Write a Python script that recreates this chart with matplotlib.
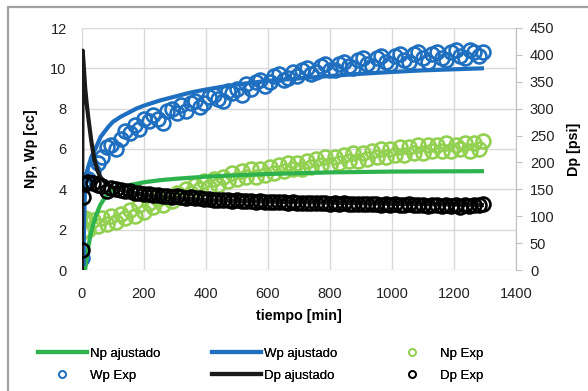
import matplotlib.pyplot as plt
from matplotlib.lines import Line2D
from matplotlib.patches import Rectangle

plt.rcParams['font.family'] = ['Liberation Sans', 'DejaVu Sans']

# tiempos de medicion [min]
t_exp = [0, 3, 10] + list(range(20, 1300, 15))

wp_exp = [0.6, 4.2, 4.4,
          4.5, 4.9, 5.3, 5.6, 6.1, 6.2, 6.0, 6.5, 6.9, 6.8,
          7.2, 7.0, 7.5, 7.4, 7.7, 7.5, 7.3, 7.9, 8.0, 7.8,
          8.2, 7.9, 8.3, 8.4, 8.1, 8.3, 8.6, 8.7, 8.5, 8.4,
          8.9, 8.8, 9.0, 8.7, 9.2, 9.0, 9.3, 9.4, 9.1, 9.3,
          9.6, 9.7, 9.4, 9.5, 9.8, 9.6, 9.9, 10.0, 9.7, 9.8,
          10.1, 10.2, 9.9, 9.9, 10.2, 10.3, 10.1, 10.0, 10.4, 10.5,
          10.2, 10.1, 10.5, 10.6, 10.3, 10.2, 10.6, 10.7, 10.4, 10.3,
          10.7, 10.8, 10.5, 10.3, 10.7, 10.8, 10.5, 10.4, 10.8, 10.9,
          10.6, 10.5, 10.9, 10.8, 10.6, 10.8]

np_exp = [1.9, 2.5, 2.6,
          2.0, 2.5, 2.2, 2.6, 2.3, 2.7, 2.4, 2.8, 2.6, 3.0,
          2.7, 3.2, 2.9, 3.3, 3.1, 3.5, 3.2, 3.6, 3.4, 3.8,
          3.6, 4.0, 3.8, 4.2, 4.0, 4.4, 4.1, 4.5, 4.2, 4.6,
          4.4, 4.8, 4.5, 4.9, 4.6, 5.0, 4.6, 5.0, 4.7, 5.1,
          4.8, 5.2, 4.9, 5.3, 5.0, 5.3, 5.0, 5.4, 5.1, 5.5,
          5.2, 5.6, 5.2, 5.6, 5.3, 5.7, 5.4, 5.8, 5.4, 5.8,
          5.5, 5.9, 5.6, 6.0, 5.6, 6.0, 5.7, 6.1, 5.7, 6.1,
          5.8, 6.2, 5.8, 6.2, 5.9, 6.2, 5.9, 6.3, 5.9, 6.2,
          6.0, 6.3, 5.9, 6.3, 6.0, 6.4]

dp_exp = [37, 136, 160,
          164, 162, 158, 156, 146, 153, 151, 149, 147, 146,
          144, 143, 142, 141, 140, 139, 138, 138, 136, 137,
          135, 134, 135, 133, 133, 132, 132, 131, 131, 130,
          130, 129, 130, 128, 129, 128, 127, 128, 127, 126,
          127, 126, 126, 125, 126, 125, 125, 124, 125, 124,
          124, 125, 123, 124, 123, 124, 122, 123, 123, 122,
          123, 122, 122, 121, 123, 121, 122, 121, 120, 122,
          121, 120, 121, 119, 121, 120, 119, 121, 119, 120,
          118, 120, 119, 120, 121, 122]

# curvas ajustadas
t_np_fit = [10, 15, 20, 27, 35, 45, 58, 70, 85, 100, 125, 150, 200,
            250, 300, 400, 500, 600, 800, 1000, 1290]
np_fit = [0.0, 0.6, 1.1, 1.7, 2.2, 2.7, 3.2, 3.5, 3.8, 3.95, 4.1, 4.2, 4.35,
          4.45, 4.52, 4.63, 4.7, 4.76, 4.84, 4.88, 4.9]

t_wp_fit = [5, 7, 10, 15, 20, 30, 43, 60, 85, 100, 125, 150, 175, 200, 250,
            300, 350, 400, 450, 500, 600, 700, 800, 900, 1000, 1100, 1290]
wp_fit = [0.3, 2.6, 4.0, 4.7, 5.1, 5.6, 6.0, 6.6, 7.1, 7.35, 7.6, 7.8, 8.0,
          8.15, 8.4, 8.6, 8.8, 8.95, 9.08, 9.2, 9.38, 9.5, 9.62, 9.73, 9.82,
          9.9, 10.0]

t_dp_fit = [0, 2, 5, 10, 15, 20, 30, 40, 50, 60, 80, 100, 150, 200, 300,
            400, 600, 800, 1000, 1290]
dp_fit = [0, 408, 385, 340, 310, 285, 240, 205, 185, 172, 160, 153, 145,
          140, 134, 130, 127, 125, 123, 121]

c_np_fit = '#2DB24E'
c_np_exp = '#92D050'
c_wp = '#1F6FC0'
c_dp = '#1A1A1A'

fig = plt.figure(figsize=(5.88, 3.91), dpi=100)
fig.patches.append(Rectangle((8 / 588, -0.1), 1.2, 1.1 - 7 / 391,
                             transform=fig.transFigure, fill=False,
                             edgecolor='#A0A0A0', linewidth=1.6))

ax = fig.add_axes([82 / 588, 1 - 270 / 391, 434 / 588, 242 / 391])
ax2 = ax.twinx()

ms = 10
mew = 1.9
ax.plot(t_np_fit, np_fit, color=c_np_fit, lw=3, zorder=3)
ax.plot(t_wp_fit, wp_fit, color=c_wp, lw=3, zorder=3)
ax.plot(t_exp, np_exp, 'o', ms=ms, mfc='none', mec=c_np_exp, mew=mew, zorder=2)
ax.plot(t_exp, wp_exp, 'o', ms=ms, mfc='none', mec=c_wp, mew=mew, zorder=2)
ax2.plot(t_dp_fit, dp_fit, color=c_dp, lw=3)
ax2.plot(t_exp, dp_exp, 'o', ms=ms, mfc='none', mec='black', mew=mew)

ax.set_xlim(0, 1400)
ax.set_ylim(0, 12)
ax2.set_ylim(0, 450)
ax.set_xticks(range(0, 1401, 200))
ax.set_yticks(range(0, 13, 2))
ax2.set_yticks(range(0, 451, 50))

ax.grid(True, color='#D9D9D9', lw=1)
ax.set_axisbelow(True)
for a in (ax, ax2):
    for s in a.spines.values():
        s.set_visible(False)
ax2.spines['right'].set_visible(True)
ax2.spines['right'].set_color('#BFBFBF')

ax.tick_params(axis='both', length=0, labelsize=10.5, colors='#222222')
ax.tick_params(axis='x', pad=12)
ax.tick_params(axis='y', pad=11)
ax2.tick_params(axis='y', length=4, color='#BFBFBF', labelsize=10.5,
                labelcolor='#222222', pad=6)

ax.set_xlabel('tiempo [min]', fontsize=10.3, fontweight='bold', labelpad=6)
ax.set_ylabel('Np, Wp [cc]', fontsize=10.3, fontweight='bold', labelpad=9)
ax2.set_ylabel('Dp [psi]', fontsize=10.3, fontweight='bold', labelpad=9)

# leyenda en tres columnas
h_np_fit = Line2D([], [], color=c_np_fit, lw=3)
h_wp_fit = Line2D([], [], color=c_wp, lw=3)
h_dp_fit = Line2D([], [], color=c_dp, lw=3)
h_np_exp = Line2D([], [], ls='none', marker='o', ms=5, mfc='none', mec=c_np_exp, mew=1.2)
h_wp_exp = Line2D([], [], ls='none', marker='o', ms=5, mfc='none', mec=c_wp, mew=1.2)
h_dp_exp = Line2D([], [], ls='none', marker='o', ms=5, mfc='none', mec='black', mew=1.2)

cols = [([h_np_fit, h_wp_exp], ['Np ajustado', 'Wp Exp'], 38),
        ([h_wp_fit, h_dp_fit], ['Wp ajustado', 'Dp ajustado'], 212),
        ([h_np_exp, h_dp_exp], ['Np Exp', 'Dp Exp'], 388)]
for hs, ls, x0 in cols:
    leg = fig.legend(hs, ls, loc='center left',
                     bbox_to_anchor=(x0 / 588, 1 - 364.5 / 391),
                     frameon=False, fontsize=9.5, handlelength=3.7,
                     handletextpad=0.25, labelspacing=0.75,
                     borderpad=0, borderaxespad=0)
    fig.add_artist(leg)

fig.savefig('out.png', dpi=100)
